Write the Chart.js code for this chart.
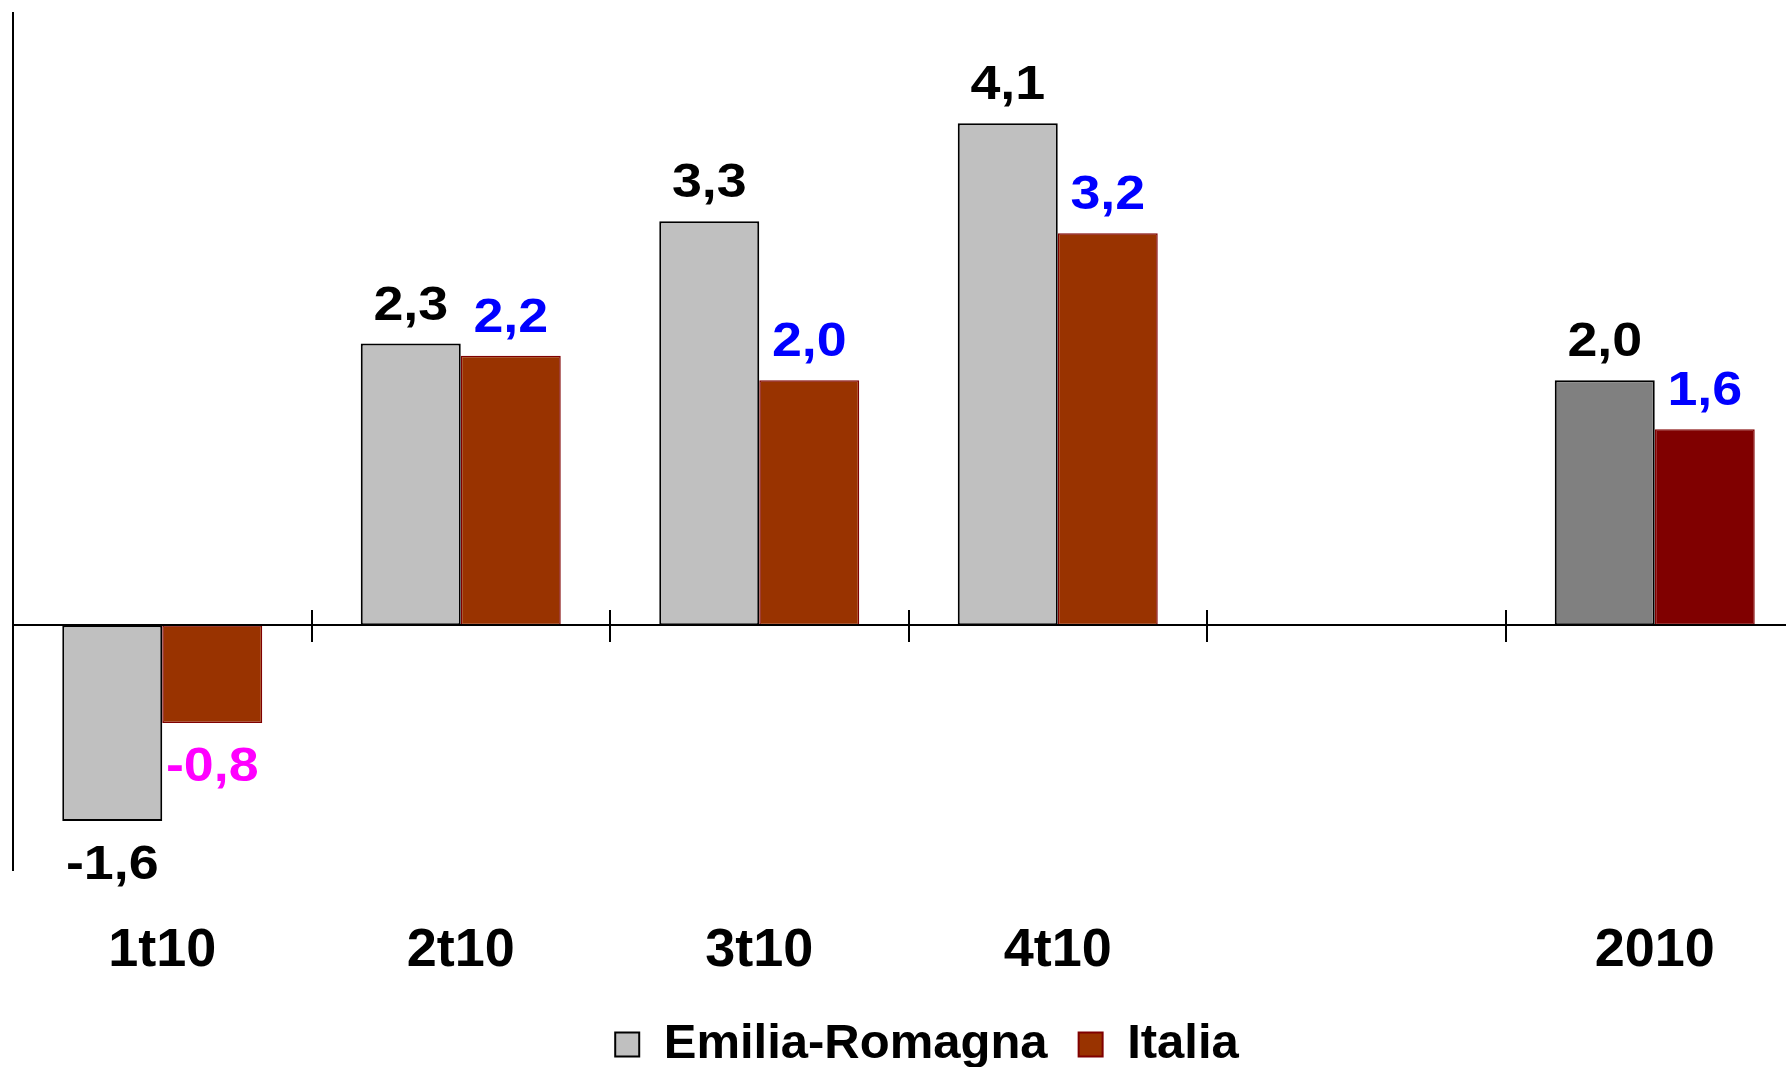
<!DOCTYPE html>
<html>
<head>
<meta charset="utf-8">
<script src="https://cdn.jsdelivr.net/npm/chart.js@4/dist/chart.umd.min.js"></script>
<style>
  html, body { margin: 0; padding: 0; background: #fff; overflow: hidden; }
  #wrap { width: 1786px; height: 1067px; overflow: hidden; position: relative; }
  #chart { position: absolute; left: 0; top: 0; }
</style>
</head>
<body>
<div id="wrap"><canvas id="chart" width="1854" height="1067"></canvas></div>
<script>
// categories and series
const categories = ['1t10', '2t10', '3t10', '4t10', '', '2010'];
const emiliaValues = [-1.6, 2.3, 3.3, 4.1, null, 2.0];
const italiaValues = [-0.8, 2.2, 2.0, 3.2, null, 1.6];
const seriesNames = ['Emilia-Romagna', 'Italia'];
const yMin = -2;
const yMax = 5;

(function () {
  const FONT = '"Liberation Sans", Arial, sans-serif';
  const LABEL_SIZE = 48;
  const LABEL_STRETCH = 1.12; // source labels are slightly wider than Arial

  // last category (yearly figure) uses darker shades
  const emiliaFill = categories.map(c => c === '2010' ? '#808080' : '#C0C0C0');
  const italiaFill = categories.map(c => c === '2010' ? '#800000' : '#993300');

  const fmt = v => v.toFixed(1).replace('.', ',');

  // value labels above / below every bar
  const valueLabels = {
    id: 'valueLabels',
    afterDatasetsDraw(chart) {
      const ctx = chart.ctx;
      chart.data.datasets.forEach((ds, di) => {
        const meta = chart.getDatasetMeta(di);
        meta.data.forEach((bar, i) => {
          const v = ds.data[i];
          if (v === null || v === undefined) return;
          let color = '#000000';
          if (di === 1) color = v < 0 ? '#FF00FF' : '#0000FF';
          const y = v >= 0 ? bar.y - 24 : bar.y + 24 + Math.round(LABEL_SIZE * 0.716);
          ctx.save();
          ctx.font = 'bold ' + LABEL_SIZE + 'px ' + FONT;
          ctx.textAlign = 'center';
          ctx.textBaseline = 'alphabetic';
          ctx.fillStyle = color;
          ctx.translate(bar.x, y);
          ctx.scale(LABEL_STRETCH, 1);
          ctx.fillText(fmt(v), 0, 0);
          ctx.restore();
        });
      });
    }
  };

  // horizontal zero line with tick marks between categories
  const zeroLine = {
    id: 'zeroLine',
    afterDatasetsDraw(chart) {
      const { ctx, chartArea, scales } = chart;
      const y0 = Math.round(scales.y.getPixelForValue(0));
      const n = categories.length;
      const step = (chartArea.right - chartArea.left) / n;
      ctx.save();
      ctx.strokeStyle = '#000';
      ctx.lineWidth = 2;
      ctx.beginPath();
      ctx.moveTo(chartArea.left, y0);
      ctx.lineTo(chartArea.right, y0);
      for (let i = 0; i <= n; i++) {
        const x = Math.round(chartArea.left + i * step);
        ctx.moveTo(x, y0 - 15);
        ctx.lineTo(x, y0 + 17);
      }
      ctx.stroke();
      ctx.restore();
    }
  };

  const data = {
    labels: categories,
    datasets: [{
      label: seriesNames[0],
      data: emiliaValues,
      backgroundColor: emiliaFill,
      borderColor: '#000000',
      borderWidth: 2,
      borderSkipped: false
    }, {
      label: seriesNames[1],
      data: italiaValues,
      backgroundColor: italiaFill,
      borderColor: '#800000',
      borderWidth: 1.5,
      borderSkipped: false
    }]
  };

  const options = {
    responsive: false,
    animation: false,
    events: [],
    layout: { padding: { top: 13, left: 0, right: 0, bottom: -12 } },
    datasets: { bar: { categoryPercentage: 0.67, barPercentage: 1.0 } },
    scales: {
      x: {
        grid: { display: false, drawTicks: false },
        border: { display: false },
        ticks: {
          color: '#000',
          padding: 49,
          font: { family: FONT, size: 54, weight: 'bold' }
        },
        afterFit: s => { s.height = 119; }
      },
      y: {
        min: yMin,
        max: yMax,
        grid: { display: false, drawTicks: false },
        border: { display: true, color: '#000', width: 2 },
        ticks: { display: false },
        afterFit: s => { s.width = 13; }
      },
      // spacer on the right so the plot runs past the window edge
      yR: {
        position: 'right',
        display: true,
        grid: { display: false, drawTicks: false },
        border: { display: false },
        ticks: { display: false },
        afterFit: s => { s.width = 50; }
      }
    },
    plugins: {
      legend: {
        display: true,
        position: 'bottom',
        labels: {
          color: '#000',
          boxWidth: 24,
          boxHeight: 24,
          padding: 31,
          font: { family: FONT, size: 49, weight: 'bold' },
          generateLabels: (chart) => chart.data.datasets.map((ds, i) => ({
            text: ds.label,
            fillStyle: i === 0 ? '#C0C0C0' : '#993300',
            strokeStyle: i === 0 ? '#000000' : '#800000',
            lineWidth: 2,
            hidden: false,
            datasetIndex: i
          }))
        }
      },
      tooltip: { enabled: false }
    }
  };

  const ctx = document.getElementById('chart').getContext('2d');
  new Chart(ctx, { type: 'bar', data, options, plugins: [zeroLine, valueLabels] });
})();
</script>
</body>
</html>
